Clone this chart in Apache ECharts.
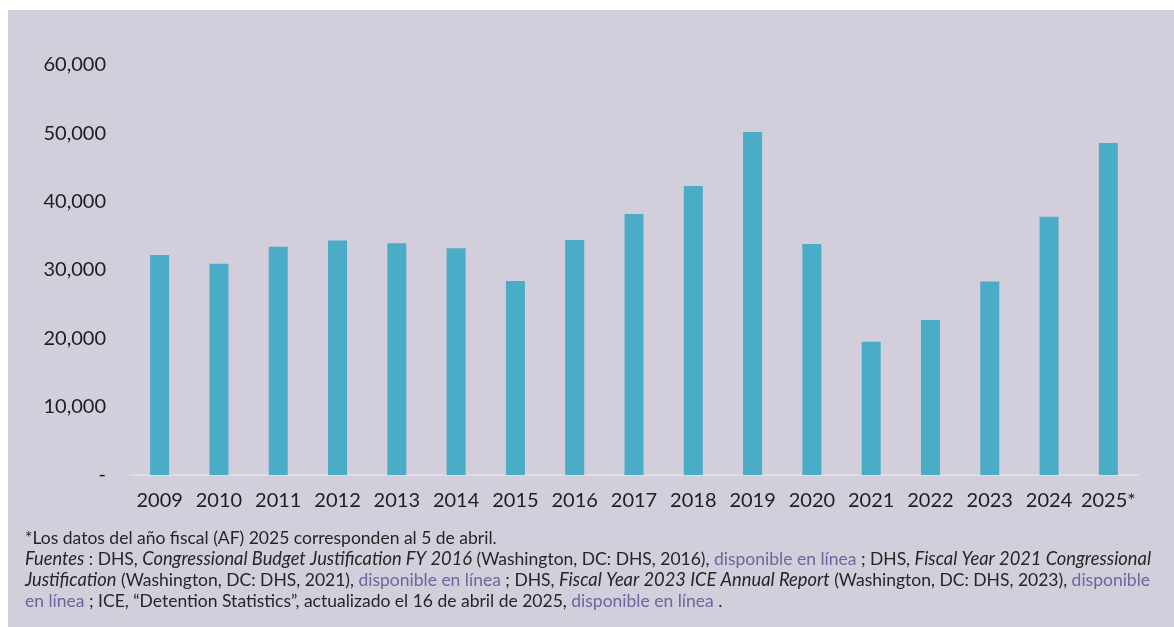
<!DOCTYPE html>
<html>
<head>
<meta charset="utf-8">
<script src="https://cdn.jsdelivr.net/npm/echarts@6/dist/echarts.min.js"></script>
<style>
html,body{margin:0;padding:0;background:#ffffff;}
#chart{width:1174px;height:627px;}
</style>
</head>
<body>
<div id="chart"></div>
<script>
const categories = ['2009','2010','2011','2012','2013','2014','2015','2016','2017','2018','2019','2020','2021','2022','2023','2024','2025*'];
const detainees = [32200, 30900, 33400, 34300, 33900, 33200, 28400, 34400, 38200, 42300, 50200, 33800, 19500, 22700, 28300, 37800, 48600];
const yTicks = [0, 10000, 20000, 30000, 40000, 50000, 60000];

const chart = echarts.init(document.getElementById('chart'), null, {renderer: 'canvas'});
const FONT = 'Lato, "Noto Sans", sans-serif';
const FS = 17.5;
const FSI = 18.3;
const note = [
  '*Los datos del año fiscal (AF) 2025 corresponden al 5 de abril.',
  '{i|Fuentes} : DHS, {i|Congressional Budget Justification FY 2016} (Washington, DC: DHS, 2016), {l|disponible en línea} ; DHS, {i|Fiscal Year 2021 Congressional}',
  '{i|Justification} (Washington, DC: DHS, 2021), {l|disponible en línea} ; DHS, {i|Fiscal Year 2023 ICE Annual Report} (Washington, DC: DHS, 2023), {l|disponible}',
  '{l|en línea} ; ICE, “Detention Statistics”, actualizado el 16 de abril de 2025, {l|disponible en línea} .'
].join('\n');

chart.setOption({
  backgroundColor: '#ffffff',
  animation: false,
  graphic: [
    {type: 'rect', left: 8, top: 10, z: -10, shape: {width: 1166, height: 617}, style: {fill: '#d2cedb'}},
    {type: 'text', left: 25, top: 528, z: 10,
     style: {
       text: note,
       font: FS + 'px ' + FONT,
       fill: '#262626',
       lineHeight: 21,
       rich: {
         i: {fontStyle: 'italic', fontSize: FSI, fontFamily: FONT, fill: '#262626', lineHeight: 21},
         l: {fontSize: FS, fontFamily: FONT, fill: '#6f659c', lineHeight: 21}
       }
     }}
  ],
  grid: {left: 130, right: 36, top: 65, bottom: 152, containLabel: false},
  xAxis: {
    type: 'category',
    data: categories,
    axisLine: {show: true, lineStyle: {color: '#e4e1e8', width: 1.5}},
    axisTick: {show: false},
    axisLabel: {color: '#1e1e1e', fontSize: 20, fontFamily: FONT, margin: 16, interval: 0}
  },
  yAxis: {
    type: 'value',
    min: 0, max: 60000, interval: 10000,
    axisLine: {show: false},
    axisTick: {show: false},
    splitLine: {show: false},
    axisLabel: {
      color: '#1e1e1e', fontSize: 20, fontFamily: FONT, margin: 24,
      formatter: v => v === 0 ? '-' : v.toLocaleString('en-US')
    }
  },
  series: [{
    type: 'bar',
    data: detainees,
    barWidth: 19,
    itemStyle: {color: '#4aacc6'}
  }]
});
</script>
</body>
</html>
